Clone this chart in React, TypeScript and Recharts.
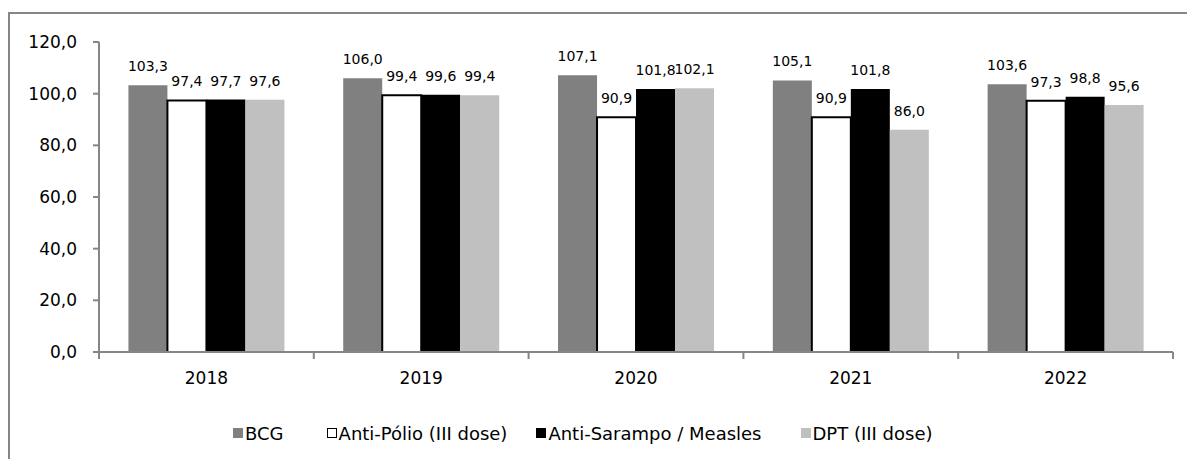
import React from "react";
import { BarChart, Bar, XAxis, YAxis, Legend, LabelList } from "recharts";

const years = ["2018", "2019", "2020", "2021", "2022"];
const bcg = [103.3, 106.0, 107.1, 105.1, 103.6];
const antiPolio = [97.4, 99.4, 90.9, 90.9, 97.3];
const antiSarampo = [97.7, 99.6, 101.8, 101.8, 98.8];
const dpt = [97.6, 99.4, 102.1, 86.0, 95.6];
const yTicks = [0, 20, 40, 60, 80, 100, 120];

const FONT = "'DejaVu Sans', Verdana, sans-serif";
const AXIS = "#868686";

const data = years.map((year, i) => ({
  year,
  bcg: bcg[i],
  polio: antiPolio[i],
  sarampo: antiSarampo[i],
  dpt: dpt[i],
}));

const series = [
  { key: "bcg", name: "BCG", fill: "#808080", stroke: "none" },
  { key: "polio", name: "Anti-Pólio (III dose)", fill: "#FFFFFF", stroke: "#000000" },
  { key: "sarampo", name: "Anti-Sarampo / Measles", fill: "#000000", stroke: "none" },
  { key: "dpt", name: "DPT (III dose)", fill: "#C0C0C0", stroke: "none" },
];
// spacing before each legend entry, as in the excel legend
const legendGaps = [214, 43, 29, 39];

const fmt = (v: number) => v.toFixed(1).replace(".", ",");

const TICK_SIZE = 7;
const TICK_MARGIN = 13;

/* eslint-disable @typescript-eslint/no-explicit-any */
// x tick: label at category centre, tick marks at the category borders (Excel style)
const YearTick = (props: any) => {
  const { x, y, payload, index, width, visibleTicksCount } = props;
  const n = visibleTicksCount || years.length;
  const band = width / n;
  const axisY = y - TICK_SIZE - TICK_MARGIN;
  return (
    <g>
      <line x1={x - band / 2} x2={x - band / 2} y1={axisY} y2={axisY + TICK_SIZE} stroke={AXIS} strokeWidth={2} />
      {index === n - 1 && (
        <line x1={x + band / 2} x2={x + band / 2} y1={axisY} y2={axisY + TICK_SIZE} stroke={AXIS} strokeWidth={2} />
      )}
      <text x={x} y={y} dy="0.71em" textAnchor="middle" fontSize={17} fontFamily={FONT} fill="#000">
        {payload.value}
      </text>
    </g>
  );
};

const LegendBox = () => (
  <div
    style={{
      display: "flex",
      justifyContent: "flex-start",
      alignItems: "center",
      height: 20,
      fontFamily: FONT,
      fontSize: 18,
      color: "#000",
      whiteSpace: "nowrap",
    }}
  >
    {series.map((s, i) => (
      <span key={s.key} style={{ display: "flex", alignItems: "center", marginLeft: legendGaps[i] }}>
        <span
          style={{
            display: "inline-block",
            width: 10,
            height: 10,
            marginRight: 2,
            background: s.fill,
            border: s.stroke !== "none" ? "1.5px solid #000" : "none",
            boxSizing: "border-box",
          }}
        />
        {s.name}
      </span>
    ))}
  </div>
);
/* eslint-enable @typescript-eslint/no-explicit-any */

export default function App() {
  return (
    <div
      style={{
        position: "fixed",
        left: 8,
        top: 12,
        width: 1179,
        height: 447,
        borderTop: `2px solid ${AXIS}`,
        borderLeft: `2px solid ${AXIS}`,
        background: "#fff",
      }}
    >
      <BarChart
        width={1177}
        height={445}
        data={data}
        margin={{ top: 28, right: 14, left: 9, bottom: 47 }}
        barCategoryGap="13.7%"
        barGap={0}
      >
        <XAxis
          dataKey="year"
          stroke={AXIS}
          strokeWidth={2}
          tickLine={false}
          tickSize={TICK_SIZE}
          tickMargin={TICK_MARGIN}
          height={40}
          interval={0}
          tick={<YearTick />}
        />
        <YAxis
          domain={[0, 120]}
          ticks={yTicks}
          interval={0}
          width={80}
          stroke={AXIS}
          strokeWidth={2}
          tickSize={6}
          tickMargin={16}
          tickFormatter={fmt}
          tick={{ fontSize: 17, fontFamily: FONT, fill: "#000" }}
        />
        <Legend verticalAlign="bottom" content={<LegendBox />} wrapperStyle={{ bottom: 16 }} />
        {series.map((s) => (
          <Bar
            key={s.key}
            dataKey={s.key}
            name={s.name}
            fill={s.fill}
            stroke={s.stroke}
            strokeWidth={s.stroke !== "none" ? 2 : 0}
            isAnimationActive={false}
          >
            <LabelList
              dataKey={s.key}
              position="top"
              offset={14}
              formatter={(v: unknown) => fmt(Number(v))}
              style={{ fontSize: 14, fontFamily: FONT, fill: "#000" }}
            />
          </Bar>
        ))}
      </BarChart>
    </div>
  );
}
